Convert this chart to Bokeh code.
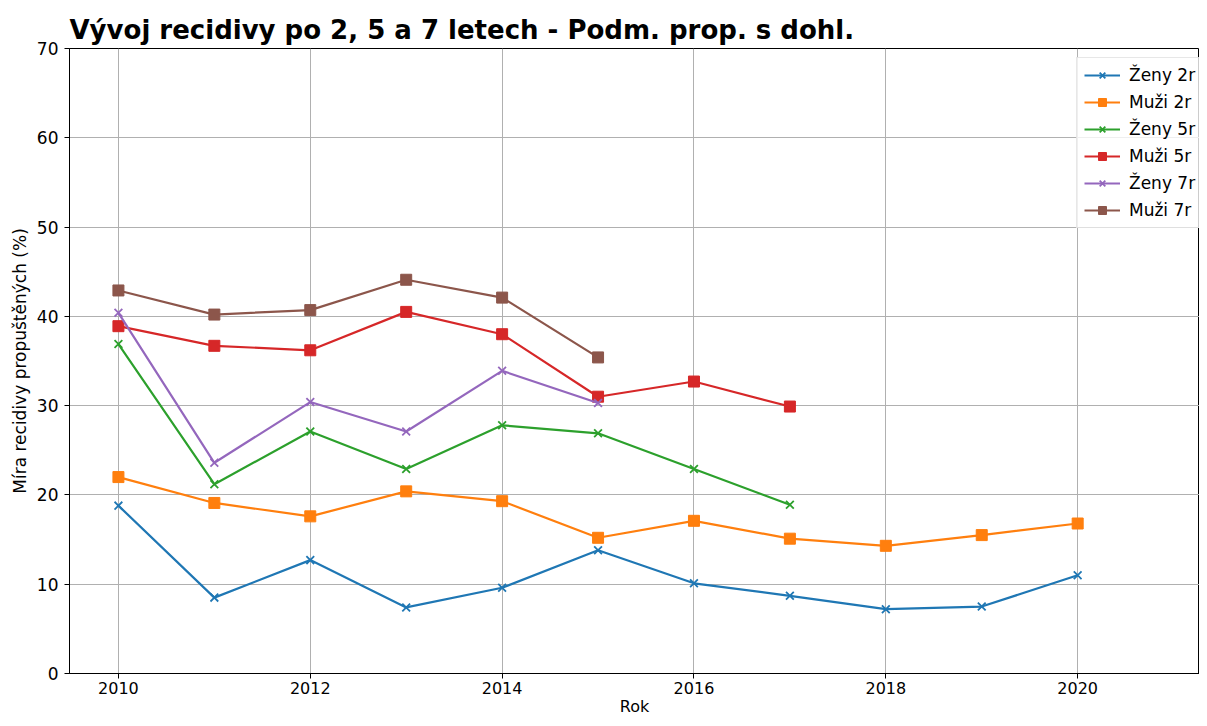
from bokeh.plotting import figure
from bokeh.embed import file_html
from bokeh.resources import INLINE
from bokeh.models import FixedTicker, Range1d, Legend

years = [2010, 2011, 2012, 2013, 2014, 2015, 2016, 2017, 2018, 2019, 2020]
zeny_2r = [18.8, 8.5, 12.7, 7.4, 9.6, 13.8, 10.1, 8.7, 7.2, 7.5, 11.0]
muzi_2r = [22.0, 19.1, 17.6, 20.4, 19.3, 15.2, 17.1, 15.1, 14.3, 15.5, 16.8]
zeny_5r = [36.9, 21.2, 27.1, 22.9, 27.8, 26.9, 22.9, 18.9]
muzi_5r = [38.9, 36.7, 36.2, 40.5, 38.0, 31.0, 32.7, 29.9]
zeny_7r = [40.4, 23.6, 30.4, 27.1, 33.9, 30.3]
muzi_7r = [42.9, 40.2, 40.7, 44.1, 42.1, 35.4]

series = [
    ("Ženy 2r", zeny_2r, "#1f77b4", "x"),
    ("Muži 2r", muzi_2r, "#ff7f0e", "square"),
    ("Ženy 5r", zeny_5r, "#2ca02c", "x"),
    ("Muži 5r", muzi_5r, "#d62728", "square"),
    ("Ženy 7r", zeny_7r, "#9467bd", "x"),
    ("Muži 7r", muzi_7r, "#8c564b", "square"),
]

FONT = "DejaVu Sans"

p = figure(width=1199, height=718, output_backend="svg", toolbar_location=None,
           x_range=Range1d(2009.49, 2021.27), y_range=Range1d(0, 70),
           min_border_left=69, min_border_right=0, min_border_bottom=44, min_border_top=48)

p.title.text = "Vývoj recidivy po 2, 5 a 7 letech - Podm. prop. s dohl."
p.title.text_font = FONT
p.title.text_font_style = "bold"
p.title.text_font_size = "26px"
p.title.text_color = "black"
p.title.align = "left"
p.title.offset = 0
p.title.standoff = 8

p.outline_line_color = "black"
p.outline_line_width = 1
p.background_fill_color = "white"
p.border_fill_color = "white"

p.xaxis.ticker = FixedTicker(ticks=[2010, 2012, 2014, 2016, 2018, 2020])
p.yaxis.ticker = FixedTicker(ticks=[0, 10, 20, 30, 40, 50, 60, 70])
p.xaxis.axis_label = "Rok"
p.yaxis.axis_label = "Míra recidivy propuštěných (%)"
for ax in (p.xaxis, p.yaxis):
    ax.axis_label_text_font = FONT
    ax.axis_label_text_font_style = "normal"
    ax.axis_label_text_font_size = "17px"
    ax.axis_label_text_color = "black"
    ax.major_label_text_font = FONT
    ax.major_label_text_font_size = "17px"
    ax.major_label_text_color = "black"
    ax.axis_line_color = "black"
    ax.major_tick_line_color = "black"
    ax.major_tick_out = 5
    ax.major_tick_in = 0
    ax.minor_tick_line_color = None
p.xaxis.axis_label_text_font_size = "16px"
p.xaxis.major_label_text_font_size = "16px"
p.yaxis.axis_label_standoff = 4
p.xaxis.axis_label_standoff = 0
p.xaxis.major_label_standoff = 3
p.yaxis.major_label_standoff = 6

p.xgrid.grid_line_color = "#b0b0b0"
p.ygrid.grid_line_color = "#b0b0b0"
p.xgrid.grid_line_width = 1
p.ygrid.grid_line_width = 1

items = []
for label, vals, color, marker in series:
    xs = years[:len(vals)]
    r1 = p.line(xs, vals, line_color=color, line_width=2.2)
    if marker == "x":
        r2 = p.scatter(xs, vals, marker="x", size=11, line_color=color, line_width=1.8)
    else:
        r2 = p.scatter(xs, vals, marker="square", size=11, fill_color=color, line_color=color)
    items.append((label, [r1, r2]))

legend = Legend(items=items, location=(1007, 445))
legend.label_text_font = FONT
legend.label_text_font_size = "17px"
legend.label_text_color = "black"
legend.glyph_width = 36
legend.glyph_height = 20
legend.spacing = 7
legend.padding = 7
legend.margin = 0
legend.label_standoff = 9
legend.border_line_color = "#d0d0d0"
legend.border_line_width = 1
legend.background_fill_alpha = 0.8
p.add_layout(legend)

open("out.html", "w").write(file_html(p, INLINE))
